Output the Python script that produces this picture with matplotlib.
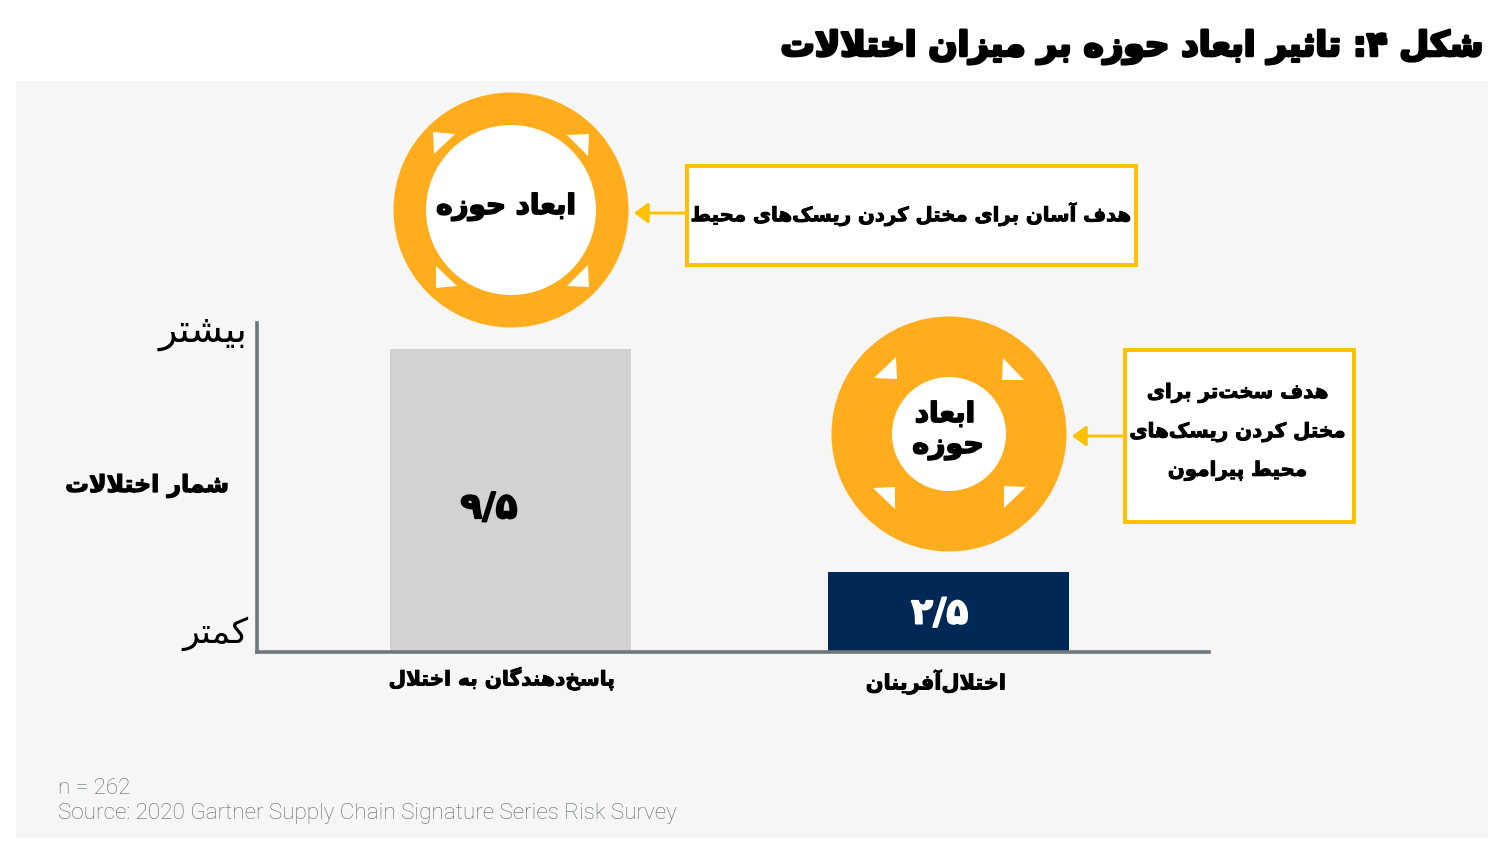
import matplotlib
matplotlib.use('Agg')
import matplotlib.pyplot as plt
import matplotlib.patheffects as pe
from matplotlib.patches import Circle, Polygon, Rectangle

# chart values
categories = ['پاسخ‌دهندگان به اختلال', 'اختلال‌آفرینان']
values = [9.5, 2.5]
value_labels = ['۹/۵', '۲/۵']
bar_colors = ['#D2D2D2', '#002856']
label_colors = ['black', 'white']

title = 'شکل ۴: تاثیر ابعاد حوزه بر میزان اختلالات'
y_label = 'شمار اختلالات'
y_more = 'بیشتر'
y_less = 'کمتر'
scope = 'ابعاد حوزه'
easy_note = 'هدف آسان برای مختل کردن ریسک‌های محیط'
hard_note = ['هدف سخت‌تر برای', 'مختل کردن ریسک‌های', 'محیط پیرامون']
footer = ['n = 262', 'Source: 2020 Gartner Supply Chain Signature Series Risk Survey']

ORANGE = '#FFAD1C'
GOLD = '#FFC000'
PANEL = '#F6F6F6'
AXIS = '#6E7879'
W, H = 1512, 857

# matplotlib does no arabic shaping, so pick the presentation forms by hand
# (isolated, final, initial, medial)
FORMS = {
    'ا': (0xFE8D, 0xFE8E), 'آ': (0xFE81, 0xFE82), 'د': (0xFEA9, 0xFEAA), 'ذ': (0xFEAB, 0xFEAC),
    'ر': (0xFEAD, 0xFEAE), 'ز': (0xFEAF, 0xFEB0), 'ژ': (0xFB8A, 0xFB8B), 'و': (0xFEED, 0xFEEE),
    'ب': (0xFE8F, 0xFE90, 0xFE91, 0xFE92), 'پ': (0xFB56, 0xFB57, 0xFB58, 0xFB59),
    'ت': (0xFE95, 0xFE96, 0xFE97, 0xFE98), 'ث': (0xFE99, 0xFE9A, 0xFE9B, 0xFE9C),
    'ح': (0xFEA1, 0xFEA2, 0xFEA3, 0xFEA4), 'خ': (0xFEA5, 0xFEA6, 0xFEA7, 0xFEA8),
    'س': (0xFEB1, 0xFEB2, 0xFEB3, 0xFEB4), 'ش': (0xFEB5, 0xFEB6, 0xFEB7, 0xFEB8),
    'ط': (0xFEC1, 0xFEC2, 0xFEC3, 0xFEC4), 'ع': (0xFEC9, 0xFECA, 0xFECB, 0xFECC),
    'ف': (0xFED1, 0xFED2, 0xFED3, 0xFED4), 'ک': (0xFB8E, 0xFB8F, 0xFB90, 0xFB91),
    'گ': (0xFB92, 0xFB93, 0xFB94, 0xFB95), 'ل': (0xFEDD, 0xFEDE, 0xFEDF, 0xFEE0),
    'م': (0xFEE1, 0xFEE2, 0xFEE3, 0xFEE4), 'ن': (0xFEE5, 0xFEE6, 0xFEE7, 0xFEE8),
    'ه': (0xFEE9, 0xFEEA, 0xFEEB, 0xFEEC), 'ی': (0xFBFC, 0xFBFD, 0xFBFE, 0xFBFF),
}
LAM_ALEF = {'ا': (0xFEFB, 0xFEFC), 'آ': (0xFEF5, 0xFEF6)}


def joins_next(ch):
    return ch in FORMS and len(FORMS[ch]) == 4


def fa(text):
    out = []
    i = 0
    while i < len(text):
        ch = text[i]
        if ch not in FORMS:
            if ch != '\u200c':
                out.append(ch)
            i += 1
            continue
        prev_joins = i > 0 and joins_next(text[i - 1])
        nxt = text[i + 1] if i + 1 < len(text) else ''
        if ch == 'ل' and nxt in LAM_ALEF:
            out.append(chr(LAM_ALEF[nxt][1 if prev_joins else 0]))
            i += 2
            continue
        next_joins = joins_next(ch) and nxt in FORMS
        forms = FORMS[ch]
        if prev_joins and next_joins:
            code = forms[3]
        elif next_joins:
            code = forms[2]
        elif prev_joins:
            code = forms[1]
        else:
            code = forms[0]
        out.append(chr(code))
        i += 1
    return ''.join(reversed(out))


fig = plt.figure(figsize=(W / 100, H / 100), dpi=100, facecolor='white')

# pixel-space layer for the panel, rings and notes
bg = fig.add_axes([0, 0, 1, 1], zorder=0)
bg.set_xlim(0, W)
bg.set_ylim(H, 0)
bg.axis('off')


def heavy(x, y, text, size, stroke=0.6, ha='center', color='black', ax=bg):
    ax.text(x, y, fa(text), fontsize=size, family='DejaVu Sans', fontweight='bold', color=color,
            ha=ha, va='center', path_effects=[pe.withStroke(linewidth=stroke, foreground=color)])


bg.add_patch(Rectangle((16, 81), 1472, 757, fc=PANEL, ec='none'))


def ring(cx, cy, inner, triangles):
    bg.add_patch(Circle((cx, cy), 117.5, fc=ORANGE, ec='none'))
    bg.add_patch(Circle((cx, cy), inner, fc='white', ec='none'))
    for tri in triangles:
        bg.add_patch(Polygon(tri, closed=True, fc='white', ec='none'))


ring(511, 210, 85, [
    [(433, 132), (455, 134), (434, 154)], [(567, 135), (589, 134), (588, 156)],
    [(436, 266), (457, 286), (436, 288)], [(588, 265), (589, 287), (567, 286)]])
ring(949, 434, 57, [
    [(896, 357), (897, 379), (874, 378)], [(1003, 358), (1024, 380), (1002, 380)],
    [(873, 488), (895, 487), (895, 509)], [(1004, 486), (1026, 487), (1004, 508)]])

# note boxes and arrows
bg.add_patch(Rectangle((687, 166), 449, 99, fc='white', ec=GOLD, lw=2.9))
bg.add_patch(Rectangle((1125, 350), 229, 172, fc='white', ec=GOLD, lw=2.9))
for x0, x1, y in [(686, 634, 213), (1124, 1072, 436)]:
    bg.annotate('', xy=(x1, y), xytext=(x0, y),
                arrowprops=dict(arrowstyle='-|>,head_length=0.85,head_width=0.62', color=GOLD, lw=2.1,
                                shrinkA=0, shrinkB=0))

# texts
heavy(1131, 47, title, 24.6, stroke=2.0)
heavy(506, 207, scope, 20, stroke=1.2)
words = scope.split()
heavy(945, 414, words[0], 20, stroke=1.2)
heavy(948, 446, words[1], 20.5, stroke=1.2)
heavy(912, 214, easy_note, 14.2, stroke=0.7)
for text, y in zip(hard_note, [393, 432, 471]):
    heavy(1238, y, text, 14.3, stroke=0.7)
heavy(147, 486, y_label, 17, stroke=0.9)
bg.text(203, 333, fa(y_more), fontsize=27.5, family='DejaVu Sans', ha='center', va='center', color='black')
bg.text(215, 634, fa(y_less), fontsize=25, family='DejaVu Sans', ha='center', va='center', color='black')
heavy(502, 679, categories[0], 14.5, stroke=0.7)
heavy(936, 682, categories[1], 15, stroke=0.7)
for line, y in zip(footer, [789, 814]):
    bg.text(58, y, line, fontsize=16.2, family='Roboto', fontweight='light', color='#5F6B6C', ha='left', va='center')

# the bars, on real data axes
ax = fig.add_axes([257 / W, 1 - 652 / H, (1209 - 257) / W, (652 - 323) / H], zorder=1)
ax.patch.set_visible(False)
positions = list(range(len(values)))
ax.bar(positions, values, width=0.55, color=bar_colors)
ax.set_xlim(-0.58, 1.595)
ax.set_ylim(0, 10.3)
ax.set_xticks([])
ax.set_yticks([])
for side in ['top', 'right']:
    ax.spines[side].set_visible(False)
for side in ['left', 'bottom']:
    ax.spines[side].set_color(AXIS)
    ax.spines[side].set_linewidth(2.6)

x_nudge = [-0.05, -0.02]
y_nudge = [-0.25, -0.05]
for pos, val, label, col, dx, dy in zip(positions, values, value_labels, label_colors, x_nudge, y_nudge):
    ax.text(pos + dx, val / 2 + dy, label, fontsize=26, family='DejaVu Sans', fontweight='bold',
            color=col, ha='center', va='center',
            path_effects=[pe.withStroke(linewidth=1.2, foreground=col)])

fig.savefig('out.png', dpi=100, facecolor='white')
